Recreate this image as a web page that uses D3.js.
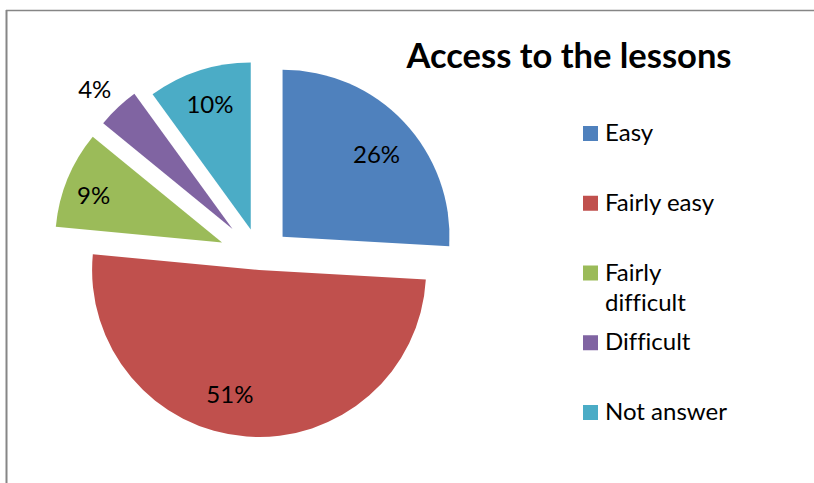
<!DOCTYPE html>
<html><head><meta charset="utf-8">
<script src="https://cdn.jsdelivr.net/npm/d3@7"></script>
<style>html,body{margin:0;padding:0;background:#fff;}svg{display:block;}text{font-variant-ligatures:none;font-feature-settings:"liga" 0;}</style>
</head><body>
<svg id="chart" width="814" height="483"></svg>
<script>
const categories = ["Easy", "Fairly easy", "Fairly difficult", "Difficult", "Not answer"];
const values = [25.9, 50.6, 9.4, 4.1, 10.0];
const colors = ["#4F81BD", "#C0504D", "#9BBB59", "#8064A2", "#4BACC6"];
const explode = [31, 12, 41, 40, 30];
const labelRadius = [0.75, 0.76, 0.82, 1.18, 0.79];
const labelTurn = [2, 9, -2, -1, 0];
const title = "Access to the lessons";

const svg = d3.select("#chart");
const font = "Lato, 'Open Sans', sans-serif";
const total = d3.sum(values);
const pct = d3.format(".0%");

// frame
svg.append("line").attr("x1", 6).attr("x2", 814).attr("y1", 10.5).attr("y2", 10.5)
  .attr("stroke", "#868686").attr("stroke-width", 1.5);
svg.append("line").attr("x1", 6.5).attr("x2", 6.5).attr("y1", 10).attr("y2", 483)
  .attr("stroke", "#868686").attr("stroke-width", 2);

const cx = 260, cy = 258, R = 167;
const pie = d3.pie().sort(null).value(d => d)(values);
const arc = d3.arc().innerRadius(0).outerRadius(R);

const g = svg.append("g").attr("transform", `translate(${cx},${cy})`);
pie.forEach((p, i) => {
  const mid = (p.startAngle + p.endAngle) / 2;
  const dx = Math.sin(mid) * explode[i], dy = -Math.cos(mid) * explode[i];
  const sg = g.append("g").attr("transform", `translate(${dx},${dy})`);
  sg.append("path").attr("d", arc(p)).attr("fill", colors[i]);
  const la = mid + labelTurn[i] * Math.PI / 180;
  const lr = R * labelRadius[i];
  sg.append("text").attr("x", Math.sin(la) * lr).attr("y", -Math.cos(la) * lr)
    .attr("text-anchor", "middle").attr("dominant-baseline", "central")
    .attr("font-family", font).attr("font-size", 24).attr("fill", "#000")
    .text(pct(values[i] / total));
});

// title
svg.append("text").attr("x", 569).attr("y", 68).attr("text-anchor", "middle")
  .attr("font-family", font).attr("font-weight", "bold").attr("font-size", 34.5)
  .attr("fill", "#000").text(title);

// legend
const legendY = d3.scalePoint().domain(categories).range([141, 420]);
const lines = {"Fairly difficult": ["Fairly", "difficult"]};
categories.forEach((c, i) => {
  const y = legendY(c);
  svg.append("rect").attr("x", 583).attr("y", y - 15).attr("width", 15).attr("height", 15)
    .attr("fill", colors[i]);
  const t = svg.append("text").attr("x", 605).attr("y", y).attr("font-family", font)
    .attr("font-size", 24).attr("fill", "#000");
  (lines[c] || [c]).forEach((s, k) => {
    t.append("tspan").attr("x", 605).attr("dy", k === 0 ? 0 : 30).text(s);
  });
});
</script>
</body></html>
